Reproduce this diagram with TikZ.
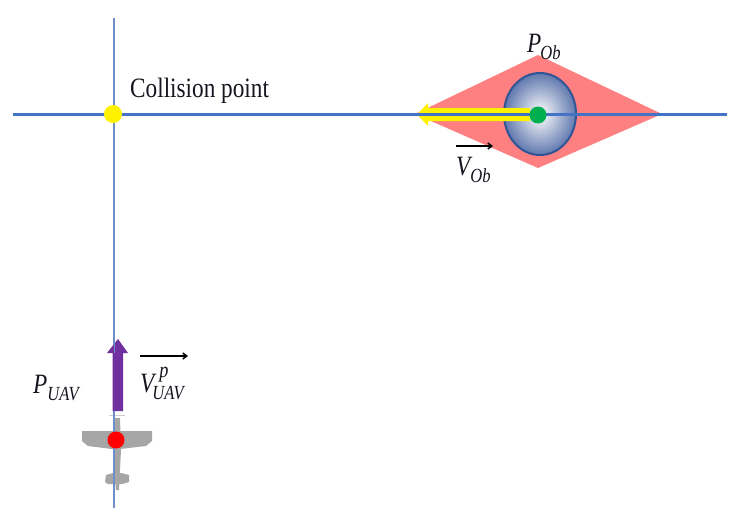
\documentclass[tikz,border=0pt]{standalone}
\usepackage{fontspec}
\newfontfamily\lblfont[FakeStretch=0.83]{Liberation Serif}
\usetikzlibrary{shapes.geometric,arrows.meta}
\definecolor{axisblue}{HTML}{4472C4}
\definecolor{thinblue}{HTML}{6E8FC9}
\definecolor{riskred}{HTML}{FF8080}
\definecolor{obgreen}{HTML}{00B050}
\definecolor{uavpurple}{HTML}{7030A0}
\definecolor{planegrey}{HTML}{A6A6A6}
\definecolor{ringblue}{HTML}{2F5597}
\definecolor{obouter}{HTML}{6078AE}
\definecolor{inkdark}{HTML}{15151F}
\tikzset{
  dot/.style={circle,inner sep=0pt,minimum size=#1},
  label text/.style={inner sep=0pt,text=inkdark,font=\lblfont},
  over arrow/.style={draw=black,line width=1.5pt,-{Straight Barb[length=4pt,width=6pt]}},
}
\newcommand{\mainsz}{\fontsize{28}{28}\selectfont}
\newcommand{\subt}[1]{\raisebox{-7pt}{\fontsize{20}{20}\selectfont\itshape #1}}
\begin{document}
\begin{tikzpicture}[x=1pt,y=-1pt]
\useasboundingbox (0,0) rectangle (742,525);
% coordinates
\coordinate (hl) at (13,114.5);
\coordinate (hr) at (727,114.5);
\coordinate (vt) at (114,18);
\coordinate (vb) at (114,508);
\coordinate (headtop) at (114,341);
\coordinate (headbase) at (114,353);
% risk diamond
\fill[riskred] (415,114) -- (538,55) -- (662,114) -- (538,168) -- cycle;
% obstacle
\node[ellipse,minimum width=72pt,minimum height=82pt,inner sep=0pt,draw=ringblue,line width=2pt,
      inner color=white,outer color=obouter] (ob) at (540,114) {};
% yellow arrow
\fill[yellow] (530,108) -- (428,108) -- (428,103) -- (417,114.5) -- (428,126) -- (428,121) -- (530,121) -- cycle;
% plane
\fill[planegrey] (82,431) -- (152,431) -- (152,441) -- (146,446) -- (120,449) -- (112,449) -- (88,446) -- (82,441) -- cycle;
\fill[planegrey] (113,418) -- (120,418) -- (121,450) -- (119,490) -- (116,490) -- (114,470) -- cycle;
\fill[planegrey] (106,475) -- (113,473) -- (121,473) -- (129,475) -- (129,482) -- (122,484) -- (108,484) -- (105,482) -- cycle;
\draw[planegrey!60!white,line width=1pt] (109,415) -- (125,415);
% axes
\draw[thinblue,line width=1.2pt] (vt) -- (vb);
\draw[axisblue,line width=3pt] (hl) -- (hr);
% purple arrow
\fill[uavpurple] (112.5,411) -- (112.5,353) -- (107,353) -- (118,339) -- (128,353) -- (123,353) -- (123,411) -- cycle;
\draw[thinblue,line width=1pt] (headtop) -- (headbase);
% dots on axes
\node[dot=18pt,fill=yellow] (cp) at (113,114) {};
\node[dot=17pt,fill=obgreen] (obc) at (538,115) {};
\node[dot=17pt,fill=red] (uav) at (116,440) {};
% labels
\node[label text,anchor=base west] (cl) at (130,97) {\mainsz Collision point};
\node[label text,anchor=base west] (pob) at (527,52) {\mainsz\itshape P\kern-1pt\subt{Ob}};
\node[label text,anchor=base west] (vob) at (456,175) {\mainsz\itshape V\subt{Ob}};
\node[label text,anchor=base west] (puav) at (33,393) {\mainsz\itshape P\subt{UAV}};
\node[label text,anchor=base west] (vuav) at (140,392) {\mainsz\itshape V\rlap{\kern5pt\raisebox{15pt}{\fontsize{22}{22}\selectfont\itshape p}}\kern-2pt\subt{UAV}};
% over-arrows
\coordinate (voba) at (456,146); \coordinate (vobb) at (493,146);
\coordinate (vuava) at (140,356); \coordinate (vuavb) at (188,356);
\draw[over arrow] (voba) -- (vobb);
\draw[over arrow] (vuava) -- (vuavb);
\end{tikzpicture}
\end{document}
